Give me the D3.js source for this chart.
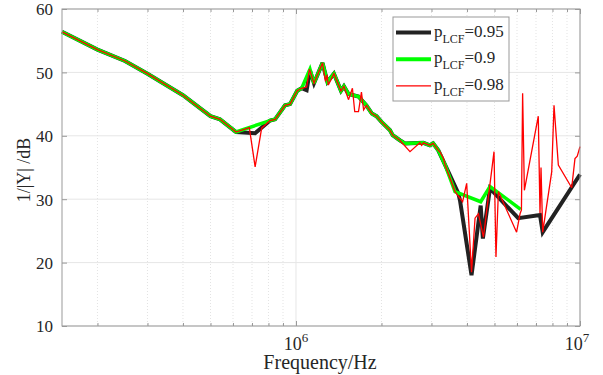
<!DOCTYPE html>
<html>
<head>
<meta charset="utf-8">
<script src="https://cdn.jsdelivr.net/npm/d3@7"></script>
<style>
body { margin: 0; background: #fff; }
text { font-family: "Liberation Serif", "Times New Roman", serif; fill: #262626; }
</style>
</head>
<body>
<svg width="603" height="375"></svg>
<script>
// shared low-frequency part of all three curves
var baseF = [1.5e5, 2.0e5, 2.5e5, 3.0e5, 4.0e5, 5.0e5, 5.4e5, 6.15e5];
var baseDb = [56.4, 53.6, 51.8, 49.8, 46.4, 43.1, 42.6, 40.6];

// pLCF = 0.95
var f95 = [7.18e5, 7.67e5, 8.1e5, 8.44e5, 9.15e5, 9.53e5, 1.01e6, 1.047e6, 1.09e6, 1.12e6,
	1.157e6, 1.24e6, 1.29e6, 1.36e6, 1.44e6, 1.475e6, 1.53e6, 1.66e6, 1.77e6, 1.85e6,
	1.92e6, 2.0e6, 2.14e6, 2.19e6, 2.32e6, 2.42e6, 2.81e6, 2.96e6, 3.04e6, 3.17e6,
	3.35e6, 3.73e6, 3.78e6, 4.15e6, 4.47e6, 4.55e6, 4.82e6, 6.06e6, 7.23e6, 7.39e6, 1.0e7];
var db95 = [40.4, 41.5, 42.4, 42.6, 44.8, 45.0, 47.1, 47.5, 47.2, 50.3,
	48.3, 51.5, 48.5, 49.8, 47.1, 47.8, 46.6, 46.2, 44.8, 43.5,
	43.1, 42.2, 40.9, 40.1, 39.3, 38.8, 38.9, 38.5, 38.8, 37.7,
	35.4, 30.9, 29.8, 18.0, 29.0, 23.8, 31.7, 27.0, 27.5, 24.8, 33.9];

// pLCF = 0.9
var f90 = [8.1e5, 8.44e5, 9.15e5, 9.53e5, 1.01e6, 1.047e6, 1.12e6, 1.157e6, 1.24e6, 1.29e6,
	1.36e6, 1.44e6, 1.475e6, 1.53e6, 1.66e6, 1.77e6, 1.85e6, 1.92e6, 2.0e6, 2.14e6,
	2.19e6, 2.32e6, 2.42e6, 2.81e6, 2.96e6, 3.04e6, 3.17e6, 3.35e6, 3.63e6, 4.47e6,
	4.82e6, 6.18e6];
var db90 = [42.4, 42.6, 44.8, 45.0, 47.1, 47.5, 50.5, 48.3, 51.5, 48.5,
	49.8, 47.1, 47.8, 46.6, 46.2, 44.8, 43.5, 43.1, 42.2, 40.9,
	40.1, 39.3, 38.8, 38.9, 38.5, 38.8, 37.7, 35.4, 31.2, 29.6,
	32.0, 28.4];

// pLCF = 0.98
var f98 = [6.85e5, 7.18e5, 7.57e5, 8.1e5, 8.44e5, 9.15e5, 9.53e5, 1.01e6, 1.047e6, 1.09e6,
	1.115e6, 1.157e6, 1.24e6, 1.27e6, 1.285e6, 1.30e6, 1.36e6, 1.44e6, 1.475e6, 1.53e6,
	1.58e6, 1.61e6, 1.66e6, 1.70e6, 1.73e6, 1.77e6, 1.85e6, 1.92e6, 2.0e6, 2.14e6,
	2.19e6, 2.32e6, 2.52e6, 2.73e6, 2.77e6, 2.81e6, 2.96e6, 3.04e6, 3.17e6, 3.21e6,
	3.30e6, 3.35e6, 3.63e6, 3.73e6, 3.86e6, 3.99e6, 4.15e6, 4.27e6, 4.39e6, 4.57e6,
	4.98e6, 5.06e6, 5.16e6, 5.98e6, 6.15e6, 6.22e6, 6.28e6, 6.37e6, 7.13e6, 7.23e6,
	7.29e6, 7.39e6, 7.95e6, 8.10e6, 8.39e6, 9.35e6, 9.60e6, 9.78e6, 1.0e7];
var db98 = [41.3, 35.1, 41.2, 42.4, 42.6, 44.8, 45.0, 47.1, 47.5, 47.7,
	50.5, 48.3, 51.5, 48.6, 49.6, 48.0, 49.8, 47.1, 47.8, 45.7,
	47.5, 43.8, 43.8, 46.9, 44.1, 44.8, 43.5, 43.1, 42.2, 40.9,
	40.1, 39.3, 37.5, 38.9, 38.5, 38.9, 38.5, 38.8, 37.7, 37.5,
	36.5, 35.4, 31.2, 30.5, 29.6, 32.5, 18.5, 27.0, 27.7, 24.0,
	37.5, 20.9, 31.2, 24.8, 27.7, 28.3, 46.7, 31.4, 43.1, 27.8,
	35.0, 24.8, 34.3, 44.8, 35.4, 31.8, 36.4, 36.8, 38.3];

var yTicks = [10, 20, 30, 40, 50, 60];
var xMajor = [1e6, 1e7];
var xMajorLabels = ["6", "7"];
var seriesNames = ["=0.95", "=0.9", "=0.98"];
var seriesColors = ["#222222", "#00ff00", "#ff0000"];
var seriesWidths = [4, 3.5, 1.3];

var svg = d3.select("svg"),
	margin = {top: 9, right: 23, bottom: 49, left: 62},
	width = 603 - margin.left - margin.right,
	height = 375 - margin.top - margin.bottom;

var x = d3.scaleLog().domain([1.5e5, 1e7]).range([0, width]),
	y = d3.scaleLinear().domain([10, 60]).range([height, 0]);

var g = svg.append("g")
	.attr("transform", "translate(" + margin.left + "," + margin.top + ")");

// minor x ticks 2..9 per decade
var xMinor = [];
[1e5, 1e6].forEach(function(dec){
	for (var k = 2; k <= 9; k++) {
		var v = k * dec;
		if (v >= 1.5e5 && v < 1e7) xMinor.push(v);
	}
});

// grid
g.selectAll(".gx-minor").data(xMinor).enter().append("line")
	.attr("x1", function(d){ return x(d); }).attr("x2", function(d){ return x(d); })
	.attr("y1", 0).attr("y2", height)
	.attr("stroke", "#dcdcdc").attr("stroke-width", 0.8).attr("stroke-dasharray", "1,2");
g.selectAll(".gx-major").data(xMajor).enter().append("line")
	.attr("x1", function(d){ return x(d); }).attr("x2", function(d){ return x(d); })
	.attr("y1", 0).attr("y2", height)
	.attr("stroke", "#e6e6e6").attr("stroke-width", 1);
g.selectAll(".gy").data(yTicks).enter().append("line")
	.attr("x1", 0).attr("x2", width)
	.attr("y1", function(d){ return y(d); }).attr("y2", function(d){ return y(d); })
	.attr("stroke", "#e6e6e6").attr("stroke-width", 1);

// tick marks (inward, both sides)
var axisCol = "#999";
function plain(s) {
	s.select(".domain").remove();
	s.selectAll("line").attr("stroke", axisCol);
}
g.append("g").attr("transform", "translate(0," + height + ")")
	.call(d3.axisBottom(x).tickValues(xMinor).tickSize(-3).tickFormat(""))
	.call(plain);
g.append("g")
	.call(d3.axisTop(x).tickValues(xMinor).tickSize(-3).tickFormat(""))
	.call(plain);
g.append("g").attr("transform", "translate(0," + height + ")")
	.call(d3.axisBottom(x).tickValues(xMajor).tickSize(-5).tickFormat(""))
	.call(plain);
g.append("g")
	.call(d3.axisTop(x).tickValues(xMajor).tickSize(-5).tickFormat(""))
	.call(plain);
g.append("g")
	.call(d3.axisLeft(y).tickValues(yTicks).tickSize(-5).tickPadding(9).tickFormat(d3.format("d")))
	.call(function(s){
		plain(s);
		s.selectAll("text").attr("font-size", 17).attr("fill", "#262626")
			.attr("font-family", "Liberation Serif, serif").attr("dy", "0.35em");
	});
g.append("g").attr("transform", "translate(" + width + ",0)")
	.call(d3.axisRight(y).tickValues(yTicks).tickSize(-5).tickFormat(""))
	.call(plain);

// lines
var line = d3.line()
	.x(function(d){ return x(d[0]); })
	.y(function(d){ return y(d[1]); });

function zipSeries(fs, ds) {
	return fs.map(function(f, i){ return [f, ds[i]]; });
}
var all = [
	zipSeries(baseF.concat(f95), baseDb.concat(db95)),
	zipSeries(baseF.concat(f90), baseDb.concat(db90)),
	zipSeries(baseF.concat(f98), baseDb.concat(db98))
];

g.selectAll(".series").data(all).enter().append("path")
	.attr("class", "series")
	.attr("fill", "none")
	.attr("stroke", function(d, i){ return seriesColors[i]; })
	.attr("stroke-width", function(d, i){ return seriesWidths[i]; })
	.attr("stroke-linejoin", "miter")
	.attr("stroke-miterlimit", 3)
	.attr("d", line);

// box
g.append("rect").attr("x", 0).attr("y", 0).attr("width", width).attr("height", height)
	.attr("fill", "none").attr("stroke", axisCol).attr("stroke-width", 1);

// x tick labels 10^n
xMajorLabels.forEach(function(p, i){
	var t = g.append("text")
		.attr("x", x(xMajor[i]) - (i == 1 ? 3 : 0))
		.attr("y", height + 24)
		.attr("text-anchor", "middle")
		.attr("font-size", 18);
	t.append("tspan").text("10");
	t.append("tspan").attr("dy", -8).attr("font-size", 13).text(p);
});

// axis titles
g.append("text")
	.attr("x", 258).attr("y", height + 43)
	.attr("text-anchor", "middle")
	.attr("font-size", 20)
	.text("Frequency/Hz");
svg.append("text")
	.attr("transform", "translate(30,170) rotate(-90)")
	.attr("text-anchor", "middle")
	.attr("font-size", 18)
	.text("1/|Y| /dB");

// legend
var lg = svg.append("g").attr("transform", "translate(393,17)");
lg.append("rect").attr("width", 116).attr("height", 84)
	.attr("fill", "#fff").attr("stroke", "#999").attr("stroke-width", 1);
seriesNames.forEach(function(name, i){
	var ly = 15.5 + i * 26.7;
	lg.append("line").attr("x1", 3).attr("x2", 38).attr("y1", ly).attr("y2", ly)
		.attr("stroke", seriesColors[i]).attr("stroke-width", i == 2 ? 1.3 : 4);
	var t = lg.append("text").attr("x", 41).attr("y", ly + 4).attr("font-size", 17);
	t.append("tspan").text("p");
	t.append("tspan").attr("dy", 6).attr("font-size", 12).text("LCF");
	t.append("tspan").attr("dy", -6).attr("font-size", 17).text(name);
});
</script>
</body>
</html>
